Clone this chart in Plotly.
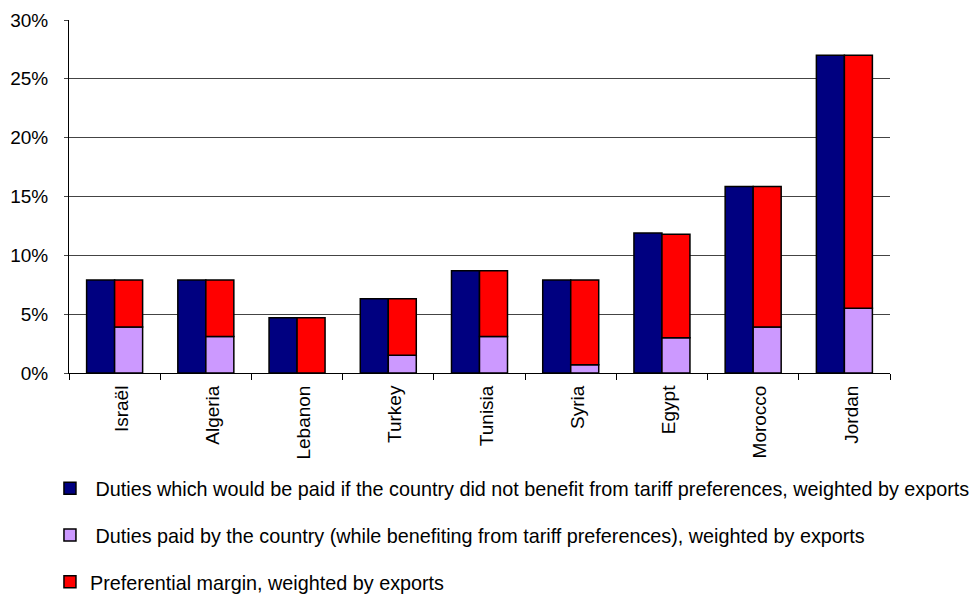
import plotly.graph_objects as go

countries = ["Israël", "Algeria", "Lebanon", "Turkey", "Tunisia", "Syria", "Egypt", "Morocco", "Jordan"]
duties_no_pref = [7.9, 7.9, 4.7, 6.3, 8.7, 7.9, 11.9, 15.85, 27.0]
duties_paid = [3.9, 3.1, 0.0, 1.5, 3.1, 0.7, 3.0, 3.9, 5.5]
pref_margin = [4.0, 4.8, 4.7, 4.8, 5.6, 7.2, 8.8, 11.95, 21.5]

names = [
    "\u00a0Duties which would be paid if the country did not benefit from tariff preferences, weighted by exports",
    "\u00a0Duties paid by the country (while benefiting from tariff preferences), weighted by exports",
    "Preferential margin, weighted by exports",
]
colors = ["#000080", "#CC99FF", "#FF0000"]
line = dict(color="black", width=1.5)

fig = go.Figure()
fig.add_trace(go.Bar(x=countries, y=duties_no_pref, name=names[0], marker=dict(color=colors[0], line=line),
                     offsetgroup="a", legendgroup="g1", hoverinfo="skip"))
fig.add_trace(go.Bar(x=countries, y=duties_paid, name=names[1], marker=dict(color=colors[1], line=line),
                     offsetgroup="b", legendgroup="g2", hoverinfo="skip"))
fig.add_trace(go.Bar(x=countries, y=pref_margin, base=duties_paid, name=names[2], marker=dict(color=colors[2], line=line),
                     offsetgroup="b", legendgroup="g3", hoverinfo="skip"))

fig.update_layout(
    width=972, height=595,
    margin=dict(l=69, r=82, t=20, b=222, autoexpand=False),
    paper_bgcolor="white", plot_bgcolor="white",
    barmode="group", bargap=0.386, bargroupgap=0,
    font=dict(family="Liberation Sans, Arial, sans-serif", color="black"),
    showlegend=True,
    legend=dict(orientation="v", xref="container", yref="container", x=0.0514, xanchor="left",
                y=0.2118, yanchor="top",
                font=dict(size=19.8, color="black"), tracegroupgap=18, traceorder="grouped",
                bgcolor="rgba(0,0,0,0)"),
    xaxis=dict(showline=True, linecolor="black", linewidth=1, ticks="outside", tickson="boundaries",
               ticklen=6, tickcolor="black", tickangle=-90, tickfont=dict(size=19),
               ticklabelshift=7, ticklabelstandoff=4, showgrid=False),
    yaxis=dict(range=[0, 30], dtick=5, ticksuffix="%", showline=True, linecolor="black", linewidth=1,
               ticks="outside", ticklen=4, tickcolor="#444", showgrid=True, gridcolor="#444",
               gridwidth=1, tickfont=dict(size=19), ticklabelstandoff=12, zeroline=False),
)

fig.write_html("out.html")
